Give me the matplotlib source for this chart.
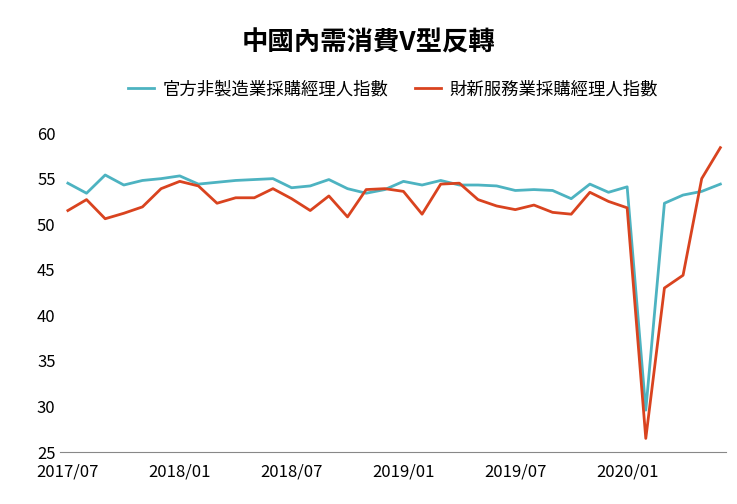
import matplotlib
matplotlib.use("Agg")
import matplotlib.pyplot as plt
from matplotlib import font_manager

# pick whatever CJK font file is installed
cjk = [f.name for f in font_manager.fontManager.ttflist if "CJK" in f.name]
tc = [n for n in cjk if "TC" in n] or cjk
plt.rcParams["font.family"] = (tc[:1] if tc else []) + ["DejaVu Sans"]

# monthly, 2017/07 .. 2020/06
months = ["2017/07", "2017/08", "2017/09", "2017/10", "2017/11", "2017/12",
          "2018/01", "2018/02", "2018/03", "2018/04", "2018/05", "2018/06",
          "2018/07", "2018/08", "2018/09", "2018/10", "2018/11", "2018/12",
          "2019/01", "2019/02", "2019/03", "2019/04", "2019/05", "2019/06",
          "2019/07", "2019/08", "2019/09", "2019/10", "2019/11", "2019/12",
          "2020/01", "2020/02", "2020/03", "2020/04", "2020/05", "2020/06"]
official_pmi = [54.5, 53.4, 55.4, 54.3, 54.8, 55.0, 55.3, 54.4, 54.6, 54.8, 54.9, 55.0,
                54.0, 54.2, 54.9, 53.9, 53.4, 53.8, 54.7, 54.3, 54.8, 54.3, 54.3, 54.2,
                53.7, 53.8, 53.7, 52.8, 54.4, 53.5, 54.1, 29.6, 52.3, 53.2, 53.6, 54.4]
caixin_pmi = [51.5, 52.7, 50.6, 51.2, 51.9, 53.9, 54.7, 54.2, 52.3, 52.9, 52.9, 53.9,
              52.8, 51.5, 53.1, 50.8, 53.8, 53.9, 53.6, 51.1, 54.4, 54.5, 52.7, 52.0,
              51.6, 52.1, 51.3, 51.1, 53.5, 52.5, 51.8, 26.5, 43.0, 44.4, 55.0, 58.4]
tick_labels = ["2017/07", "2018/01", "2018/07", "2019/01", "2019/07", "2020/01"]

fig = plt.figure(figsize=(7.37, 5.04), dpi=100)
ax = fig.add_axes([0.082, 0.103, 0.903, 0.633])

x = list(range(len(months)))
ax.plot(x, official_pmi, color="#4DB3C1", lw=2, label="官方非製造業採購經理人指數")
ax.plot(x, caixin_pmi, color="#D9431F", lw=2, label="財新服務業採購經理人指數")

ax.set_ylim(25, 60)
ax.set_yticks(range(25, 61, 5))
ax.set_xlim(-0.4, len(months) - 0.7)
ax.set_xticks([months.index(t) for t in tick_labels])
ax.set_xticklabels(tick_labels)
ax.tick_params(labelsize=12, length=0)
ax.tick_params(axis="x", pad=8)
for s in ["top", "right", "left"]:
    ax.spines[s].set_visible(False)
ax.spines["bottom"].set_color("#888888")

fig.text(0.5, 0.9, "中國內需消費V型反轉", ha="center", fontsize=19, fontweight="bold")
ax.legend(loc="lower center", bbox_to_anchor=(0.5, 1.06), ncol=2, frameon=False,
          fontsize=12.5, handlelength=1.5, columnspacing=1.5, handletextpad=0.5)

fig.savefig("out.png", dpi=100)
